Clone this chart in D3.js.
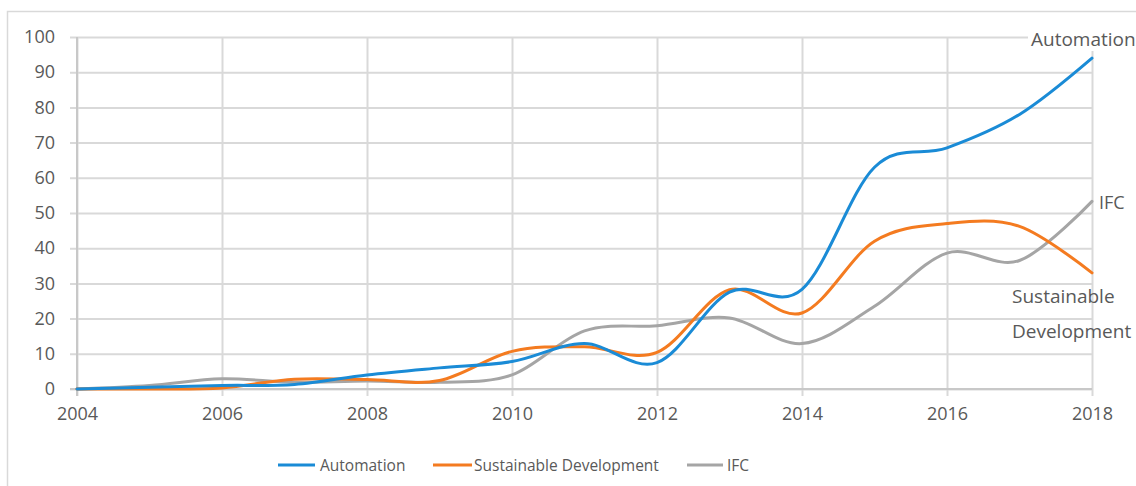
<!DOCTYPE html>
<html>
<head>
<meta charset="utf-8">
<script src="https://cdn.jsdelivr.net/npm/d3@7"></script>
<style>
  html, body { margin: 0; padding: 0; background: #fff; }
  svg { display: block; font-family: "Open Sans", sans-serif; }
</style>
</head>
<body>
<svg id="chart" width="1136" height="486"></svg>
<script>
const years = [2004,2005,2006,2007,2008,2009,2010,2011,2012,2013,2014,2015,2016,2017,2018];
const automation = [0,0.5,1,1.3,4,6,7.8,12.9,7.5,27.5,28.3,63,68.5,78,94];
const sustainable = [0,0,0.3,2.8,2.7,2.4,10.7,12,10.4,28.2,21.6,42,47,46.2,33];
const ifc = [0,1,2.9,1.9,2.3,1.9,4,16.5,18,20.2,12.9,23.5,38.6,36.5,53.3];
const xTicks = [2004,2006,2008,2010,2012,2014,2016,2018];
const yTicks = [0,10,20,30,40,50,60,70,80,90,100];
const seriesNames = ["Automation","Sustainable Development","IFC"];
const seriesColors = ["#1a8bd6","#f47b20","#a5a5a5"];

const svg = d3.select("#chart");
const x = d3.scaleLinear().domain([2004,2018]).range([77,1092]);
const y = d3.scaleLinear().domain([0,100]).range([389,37]);
const textColor = "#595959";
const gridColor = "#d9d9d9";

// outer frame
svg.append("rect").attr("x",7.5).attr("y",11.5).attr("width",1200).attr("height",600)
  .attr("fill","none").attr("stroke","#d9d9d9").attr("stroke-width",1.5);

// y gridlines + axis
const yAxis = d3.axisLeft(y).tickValues(yTicks).tickSize(1092-70).tickPadding(15).tickFormat(d3.format("d"));
const gy = svg.append("g").attr("transform","translate(1092,0)").call(yAxis)
  .attr("font-family",null).attr("font-size",null);
gy.select(".domain").remove();
gy.selectAll(".tick line").attr("stroke",gridColor).attr("stroke-width",2);
gy.selectAll(".tick text").attr("fill",textColor).attr("font-size",18).attr("x",-(1092-55)).attr("text-anchor","end");

// x gridlines + axis
const xAxis = d3.axisBottom(x).tickValues(xTicks).tickSize(396-37).tickPadding(11).tickFormat(d3.format("d"));
const gx = svg.append("g").attr("transform","translate(0,37)").call(xAxis)
  .attr("font-family",null).attr("font-size",null);
gx.select(".domain").remove();
gx.selectAll(".tick line").attr("stroke",gridColor).attr("stroke-width",2);
gx.selectAll(".tick text").attr("fill",textColor).attr("font-size",18);

// axis lines
svg.append("line").attr("x1",x(2004)).attr("x2",x(2004)).attr("y1",y(100)).attr("y2",396)
  .attr("stroke","#c8c8c8").attr("stroke-width",2);
svg.append("line").attr("x1",70).attr("x2",x(2018)).attr("y1",y(0)).attr("y2",y(0))
  .attr("stroke","#c8c8c8").attr("stroke-width",2);

// lines
const line = d3.line().x((d,i)=>x(years[i])).y(d=>y(d)).curve(d3.curveCardinal.tension(0));
const data = [automation, sustainable, ifc];
[2,1,0].forEach(k=>{
  svg.append("path").datum(data[k]).attr("d",line).attr("fill","none")
    .attr("stroke",seriesColors[k]).attr("stroke-width",3).attr("stroke-linecap","round");
});

// end labels
const autoLabel = svg.append("g");
autoLabel.append("rect").attr("x",1028).attr("y",26).attr("width",110).attr("height",25).attr("fill","#fff");
autoLabel.append("text").attr("x",1031).attr("y",46).attr("font-size",19).attr("fill",textColor).text("Automation");
svg.append("text").attr("x",1099).attr("y",209).attr("font-size",18).attr("fill",textColor).text("IFC");
svg.append("text").attr("x",1012).attr("y",303).attr("font-size",19).attr("fill",textColor).text("Sustainable");
svg.append("text").attr("x",1012).attr("y",338).attr("font-size",19).attr("fill",textColor).text("Development");

// legend
const legendItems = [
  {x1:278, x2:315, tx:320},
  {x1:433, x2:472, tx:474},
  {x1:687, x2:723, tx:727}
];
legendItems.forEach((it,k)=>{
  svg.append("line").attr("x1",it.x1).attr("x2",it.x2).attr("y1",465).attr("y2",465)
    .attr("stroke",seriesColors[k]).attr("stroke-width",3);
  svg.append("text").attr("x",it.tx).attr("y",471).attr("font-size",15.5).attr("fill",textColor).text(seriesNames[k]);
});
</script>
</body>
</html>
